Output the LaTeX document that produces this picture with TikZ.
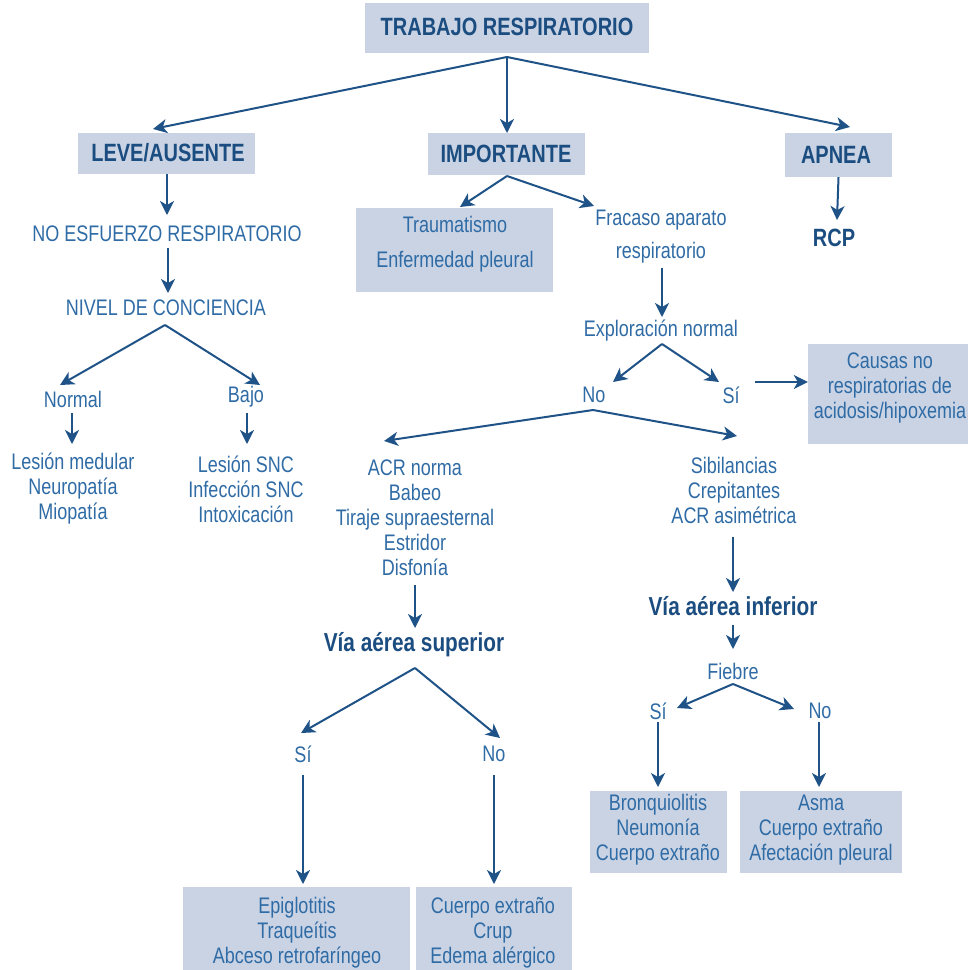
\documentclass[tikz,border=0pt]{standalone}
\usepackage{fontspec}
\setmainfont{Liberation Sans}[FakeStretch=0.8]
\usetikzlibrary{arrows.meta}
\definecolor{boxfill}{HTML}{C9D3E4}
\definecolor{txtblue}{HTML}{2F6BA5}
\definecolor{boldblue}{HTML}{1C4D80}
\definecolor{arrowblue}{HTML}{1F5286}
\begin{document}
\begin{tikzpicture}[x=1pt,y=-1pt,
  txt/.style={text=txtblue, font=\fontsize{22.5}{25}\selectfont, align=center, inner sep=0pt},
  btxt/.style={text=boldblue, font=\fontsize{25}{28}\bfseries\selectfont, align=center, inner sep=0pt},
  vtxt/.style={text=boldblue, font=\fontsize{26}{29}\bfseries\selectfont, align=center, inner sep=0pt},
  box/.style={fill=boxfill, draw=none, inner sep=0pt},
  arr/.style={draw=arrowblue, line width=2pt, -{Stealth[length=14pt,width=14pt,inset=4pt]}}]
\useasboundingbox (0,0) rectangle (968,970);
% boxes
\node[box, minimum width=284pt, minimum height=50pt] (trabbox) at (507,28) {};
\node[box, minimum width=177pt, minimum height=41pt] (levebox) at (166.5,153.5) {};
\node[box, minimum width=157pt, minimum height=42pt] (impbox) at (506.5,154) {};
\node[box, minimum width=107pt, minimum height=44pt] (apneabox) at (838.5,155) {};
\node[box, minimum width=197pt, minimum height=84pt] (traumabox) at (454.5,250) {};
\node[box, minimum width=167pt, minimum height=100pt] (causasbox) at (891.5,394) {};
\node[box, minimum width=137pt, minimum height=82pt] (bronqbox) at (658.5,832) {};
\node[box, minimum width=162pt, minimum height=82pt] (asmabox) at (821,832) {};
\node[box, minimum width=227pt, minimum height=88pt] (epigbox) at (296.5,931) {};
\node[box, minimum width=156pt, minimum height=88pt] (cuerpobox) at (494,931) {};
% texts
\node[btxt] (trab) at (507,27) {TRABAJO RESPIRATORIO};
\node[btxt] (leve) at (168,153) {LEVE/AUSENTE};
\node[btxt] (imp) at (506,154) {IMPORTANTE};
\node[btxt] (apnea) at (836,155) {APNEA};
\node[btxt] (rcp) at (834,238) {RCP};
\node[txt] (noesf) at (167,234) {NO ESFUERZO RESPIRATORIO};
\node[txt] (nivel) at (166,308) {NIVEL DE CONCIENCIA};
\node[txt] (normal) at (73,399) {Normal};
\node[txt] (bajo) at (246,397) {Bajo};
\node[txt] (lesmed) at (73,489) {Lesión medular\\Neuropatía\\Miopatía};
\node[txt] (lessnc) at (246,489) {Lesión SNC\\Infección SNC\\Intoxicación};
\node[txt] (trauma) at (455,244) {Traumatismo\\[10pt]Enfermedad pleural};
\node[txt] (fracaso) at (661,237) {Fracaso aparato\\[8pt]respiratorio};
\node[txt] (explor) at (661,331) {Exploración normal};
\node[txt] (expno) at (594,395) {No};
\node[txt] (expsi) at (731,395) {Sí};
\node[txt] (causas) at (890,388) {Causas no\\respiratorias de\\acidosis/hipoxemia};
\node[txt] (acr) at (415,518) {ACR norma\\Babeo\\Tiraje supraesternal\\Estridor\\Disfonía};
\node[txt] (sibil) at (734,490) {Sibilancias\\Crepitantes\\ACR asimétrica};
\node[vtxt] (viasup) at (414,645) {Vía aérea superior};
\node[vtxt] (viainf) at (733,606) {Vía aérea inferior};
\node[txt] (fiebre) at (733,671) {Fiebre};
\node[txt] (fsi) at (658,711) {Sí};
\node[txt] (fno) at (820,711) {No};
\node[txt] (bronq) at (658,830) {Bronquiolitis\\Neumonía\\Cuerpo extraño};
\node[txt] (asma) at (821,830) {Asma\\Cuerpo extraño\\Afectación pleural};
\node[txt] (ssi) at (303,754) {Sí};
\node[txt] (sno) at (494,754) {No};
\node[txt] (epig) at (297,933) {Epiglotitis\\Traqueítis\\Abceso retrofaríngeo};
\node[txt] (cuerpo) at (493,933) {Cuerpo extraño\\Crup\\Edema alérgico};
% fork points and tips
\coordinate (trabfork) at (507,57);
\coordinate (t1) at (153,129);
\coordinate (t2) at (507,133);
\coordinate (t3) at (850,127);
\coordinate (impfork) at (507,176);
\coordinate (nivfork) at (165,325);
\coordinate (expfork) at (662,344);
\coordinate (nofork) at (593,410);
\coordinate (supfork) at (415,668);
\coordinate (fiefork) at (733,684);
% arrows
\draw[arr] (trabfork) -- (t1);
\draw[arr] (trabfork) -- (t2);
\draw[arr] (trabfork) -- (t3);
\draw[arr] (levebox.south -| 167,0) -- (167,215);
\draw[arr] (168,248) -- (168,293);
\draw[arr] (nivfork) -- (60,385);
\draw[arr] (nivfork) -- (260,385);
\draw[arr] (72,413) -- (72,444);
\draw[arr] (247,413) -- (247,444);
\draw[arr] (impfork) -- (460,207);
\draw[arr] (impfork) -- (594,206);
\draw[arr] (662,268) -- (662,317);
\draw[arr] (expfork) -- (613,382);
\draw[arr] (expfork) -- (719,382);
\draw[arr] (755,382) -- (causasbox.west |- 0,382);
\draw[arr] (nofork) -- (384,441);
\draw[arr] (nofork) -- (737,436);
\draw[arr] (415,585) -- (415,628);
\draw[arr] (733,537) -- (733,592);
\draw[arr] (733,625) -- (733,649);
\draw[arr] (supfork) -- (301,733);
\draw[arr] (supfork) -- (500,738);
\draw[arr] (fiefork) -- (677,708);
\draw[arr] (fiefork) -- (794,709);
\draw[arr] (658,722) -- (658,787);
\draw[arr] (819,722) -- (819,787);
\draw[arr] (303,775) -- (303,884);
\draw[arr] (494,775) -- (494,884);
\draw[arr] (apneabox.south) -- (837,220);
\end{tikzpicture}
\end{document}
